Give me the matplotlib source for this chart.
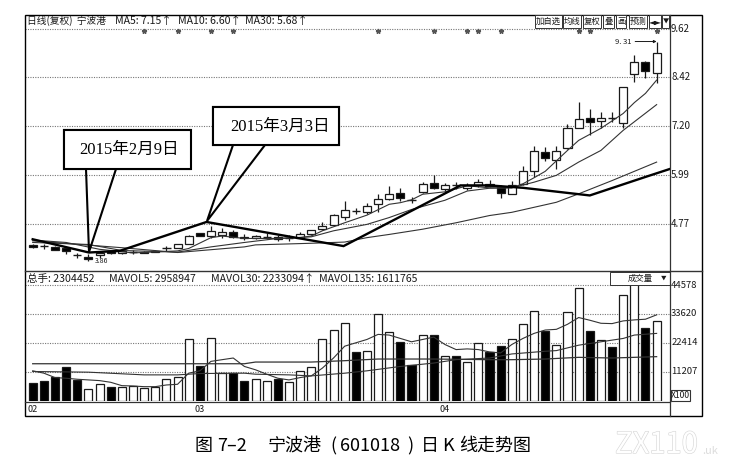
import matplotlib
matplotlib.use("Agg")
import matplotlib.pyplot as plt
from matplotlib import patches
from matplotlib import patheffects

plt.rcParams['font.family'] = ['Noto Sans CJK SC', 'DejaVu Sans']

# candles
opens = [4.24, 4.22, 4.20, 4.16, 3.99, 3.95, 3.99, 4.09, 4.05, 4.07, 4.08, 4.08, 4.16, 4.18, 4.28, 4.54, 4.47, 4.50, 4.57,
         4.41, 4.41, 4.45, 4.45, 4.43, 4.43, 4.51, 4.64, 4.75, 4.95, 5.09, 5.08, 5.26, 5.38, 5.55, 5.37, 5.57, 5.80, 5.63,
         5.73, 5.67, 5.74, 5.77, 5.70, 5.52, 5.77, 6.08, 6.56, 6.37, 6.66, 7.17, 7.40, 7.32, 7.40, 7.29, 8.50, 8.80, 8.53]
closes = [4.20, 4.22, 4.13, 4.11, 3.99, 3.91, 4.06, 4.05, 4.10, 4.07, 4.06, 4.11, 4.16, 4.26, 4.48, 4.47, 4.59, 4.58, 4.45,
          4.45, 4.47, 4.45, 4.40, 4.43, 4.53, 4.61, 4.71, 4.99, 5.13, 5.09, 5.22, 5.38, 5.52, 5.41, 5.37, 5.76, 5.67, 5.73,
          5.73, 5.73, 5.82, 5.72, 5.54, 5.73, 6.08, 6.58, 6.40, 6.58, 7.17, 7.38, 7.31, 7.41, 7.40, 8.17, 8.80, 8.57, 9.03]
highs = [4.26, 4.26, 4.22, 4.17, 4.06, 4.02, 4.10, 4.11, 4.12, 4.12, 4.09, 4.13, 4.22, 4.27, 4.49, 4.55, 4.72, 4.66, 4.61,
         4.51, 4.49, 4.55, 4.50, 4.49, 4.58, 4.63, 4.83, 5.01, 5.34, 5.18, 5.28, 5.51, 5.72, 5.66, 5.43, 5.82, 5.99, 5.80,
         5.81, 5.80, 5.90, 5.86, 5.73, 5.85, 6.21, 6.71, 6.69, 6.71, 7.25, 7.80, 7.62, 7.55, 7.55, 8.19, 8.97, 8.82, 9.31]
lows = [4.18, 4.14, 4.12, 4.03, 3.93, 3.86, 3.93, 4.03, 4.03, 4.03, 4.05, 4.07, 4.10, 4.17, 4.27, 4.46, 4.41, 4.43, 4.41,
        4.37, 4.39, 4.39, 4.35, 4.35, 4.41, 4.49, 4.62, 4.73, 4.86, 5.01, 5.01, 5.08, 5.36, 5.34, 5.28, 5.55, 5.65, 5.59,
        5.65, 5.61, 5.69, 5.68, 5.42, 5.51, 5.75, 5.94, 6.34, 6.14, 6.64, 7.17, 6.98, 7.17, 7.31, 7.17, 8.31, 8.41, 8.27]

ma5_x = [0, 3, 6, 9, 13, 14, 16, 17, 19, 22, 24, 25, 26, 28, 30, 32, 33, 34, 35, 37, 39, 41, 43, 44, 45, 46, 47, 48, 49, 51, 53, 54, 55, 56]
ma5_y = [4.37, 4.31, 4.14, 4.05, 4.10, 4.16, 4.43, 4.47, 4.41, 4.41, 4.43, 4.47, 4.60, 4.80, 4.99, 5.26, 5.30, 5.37, 5.51, 5.57, 5.72,
         5.67, 5.67, 5.77, 5.92, 6.08, 6.34, 6.60, 6.85, 7.15, 7.52, 7.79, 8.02, 8.35]
ma10_x = [0, 5, 8, 13, 16, 19, 22, 25, 27, 30, 32, 34, 37, 39, 41, 43, 45, 47, 49, 51, 53, 56]
ma10_y = [4.31, 4.26, 4.11, 4.07, 4.20, 4.31, 4.41, 4.45, 4.60, 4.76, 4.93, 5.13, 5.36, 5.59, 5.66, 5.67, 5.81, 5.98, 6.31, 6.60, 7.10, 7.74]
ma30_x = [0, 8, 13, 19, 20, 25, 28, 30, 32, 35, 38, 41, 43, 47, 49, 52, 56]
ma30_y = [4.35, 4.18, 4.06, 4.20, 4.25, 4.29, 4.32, 4.43, 4.51, 4.64, 4.80, 4.98, 5.06, 5.31, 5.52, 5.85, 6.31]

# the thick trend line drawn on the chart
trend_x = [0, 5.05, 7.8, 15.6, 27.9, 38.4, 41, 44, 50, 55.1, 57.2]
trend_y = [4.39, 4.06, 4.10, 4.82, 4.22, 5.73, 5.73, 5.67, 5.48, 5.95, 6.14]

event_days = [10, 13, 16, 18, 31, 36, 39, 40, 42, 49, 50, 56]
price_ticks = [9.62, 8.42, 7.20, 5.99, 4.77]

volumes = [6804, 7841, 9137, 13154, 8100, 4471, 6415, 5249, 5249, 5767, 4990, 5249, 8359, 9137, 23652, 13414, 24041, 10692, 10822, 7582,
           8359, 7711, 8618, 7193, 11340, 13025, 23652, 27151, 29873, 18857, 19116, 33502, 26374, 22486, 13673, 25466, 25466, 17302, 17172, 15098, 22356, 18986,
           20994, 23957, 29753, 34518, 26919, 21510, 34261, 43534, 27048, 23442, 20866, 40572, 44822, 27950, 30654]
vol_filled = [1, 1, 1, 1, 1, 0, 0, 1, 0, 0, 0, 0, 0, 0, 0, 1, 0, 0, 1, 1,
              0, 0, 1, 0, 0, 0, 0, 0, 0, 1, 0, 0, 0, 1, 1, 0, 1, 0, 1, 0, 0, 1,
              1, 0, 0, 0, 1, 0, 0, 0, 1, 0, 1, 0, 0, 1, 0]
mavol5 = [11600, 10700, 9000, 8750, 8360, 8100, 7840, 7190, 5900, 5770, 5510, 5510, 6160, 6415, 10700, 11600, 15230, 15880, 16520, 13280,
          11990, 10300, 8750, 8100, 9000, 9650, 12640, 16520, 21060, 22360, 23650, 25600, 25340, 24040, 22750, 23650, 24560, 21710, 19760, 20020, 19760, 18860,
          18470, 21710, 24040, 25980, 27280, 27540, 29480, 32080, 31040, 29870, 29740, 30780, 31170, 31430, 33110]
mavol30_x = [0, 5, 10, 13, 15, 19, 20, 23, 25, 28, 30, 33, 36, 38, 41, 43, 46, 47, 49, 51, 53, 54, 56]
mavol30_y = [11340, 11080, 10040, 10040, 10560, 10690, 10300, 10040, 9650, 10690, 11600, 13280, 14580, 15880, 16520, 18080, 19120, 19370, 21450, 22750, 24040, 25340, 25980]
mavol135_x = [0, 10, 19, 20, 25, 28, 31, 36, 41, 43, 46, 49, 52, 56]
mavol135_y = [14320, 14320, 14320, 14970, 14970, 15490, 16130, 16130, 15880, 15880, 16130, 16780, 16520, 17040]
vol_ticks = [44578, 33620, 22414, 11207]

month_days = [0, 15, 37]
month_labels = ['02', '03', '04']

W, H = 744, 467
ink = '#1a1a1a'
fig = plt.figure(figsize=(W / 100, H / 100), dpi=100)

def axes_px(x0, y0, x1, y1):
	return fig.add_axes([x0 / W, 1 - y1 / H, (x1 - x0) / W, (y1 - y0) / H])

ax = axes_px(25, 15, 670, 271)
ax_vol = axes_px(25, 272, 670, 401)
for a in (ax, ax_vol):
	a.set_xlim(-0.69, 57.2)
	a.set_xticks([])
	a.set_yticks([])
	a.patch.set_alpha(0)
	for s in a.spines.values():
		s.set_visible(False)
ax.set_ylim(3.60, 9.97)
ax_vol.set_ylim(0, 49575)

# price panel
for p in price_ticks:
	ax.axhline(p, color='#777777', lw=0.8, ls=(0, (1, 1.2)), zorder=1)
	ax.text(57.3, p, '%.2f' % p, fontsize=7, va='center', ha='left', color=ink, clip_on=False)

for i in range(len(opens)):
	ax.vlines(i, lows[i], highs[i], color=ink, lw=0.9, zorder=2)
	top, bot = max(opens[i], closes[i]), min(opens[i], closes[i])
	if top == bot:
		ax.hlines(top, i - 0.37, i + 0.37, color=ink, lw=1.0, zorder=3)
	else:
		ax.bar(i, top - bot, width=0.72, bottom=bot, zorder=3, linewidth=0.9, edgecolor=ink,
			   facecolor='black' if closes[i] < opens[i] else 'white')

ax.plot(ma5_x, ma5_y, color='#333333', lw=0.8, zorder=4)
ax.plot(ma10_x, ma10_y, color='#333333', lw=0.8, zorder=4)
ax.plot(ma30_x, ma30_y, color='#333333', lw=0.8, zorder=4)
ax.plot(trend_x, trend_y, color='black', lw=1.7, zorder=5, solid_joinstyle='miter')
ax.plot(event_days, [9.58] * len(event_days), ls='', marker='*', ms=3.5, color='#555555', zorder=2)

ax.annotate('9. 31', xy=(56, 9.31), xytext=(53.7, 9.31), fontsize=5.5, va='center', ha='right', color=ink,
			arrowprops=dict(arrowstyle='-|>', color=ink, lw=0.7, mutation_scale=4, shrinkA=1, shrinkB=0))
ax.text(5.6, 3.86, '3.86', fontsize=5, va='center', ha='left', color=ink)

# volume panel
for v in vol_ticks:
	ax_vol.axhline(v, color='#777777', lw=0.8, ls=(0, (1, 1.2)), zorder=1)
	ax_vol.text(57.3, v, str(v), fontsize=6.8, va='center', ha='left', color=ink, clip_on=False)

for i in range(len(volumes)):
	ax_vol.bar(i, volumes[i], width=0.72, zorder=2, linewidth=0.9, edgecolor=ink,
			   facecolor='black' if vol_filled[i] else 'white')

ax_vol.plot(range(len(mavol5)), mavol5, color='#333333', lw=0.8, zorder=3)
ax_vol.plot(mavol30_x, mavol30_y, color='#333333', lw=0.8, zorder=3)
ax_vol.plot(mavol135_x, mavol135_y, color='#333333', lw=0.9, zorder=3)

for d, label in zip(month_days, month_labels):
	ax_vol.text(d - 0.5, -1500, label, fontsize=6.5, va='top', ha='left', color=ink, clip_on=False)

# everything around the panels, in pixels
ov = fig.add_axes([0, 0, 1, 1], zorder=10)
ov.set_xlim(0, W)
ov.set_ylim(H, 0)
ov.axis('off')
ov.patch.set_alpha(0)

ov.add_patch(patches.Rectangle((24.5, 14.5), 677.5, 401.5, fill=False, ec='black', lw=1.0))
ov.plot([670, 670], [14.5, 416], color='#333333', lw=0.9)
ov.plot([24.5, 702], [271, 271], color='#333333', lw=1.0)
ov.plot([24.5, 670], [401.5, 401.5], color='#333333', lw=0.9)
ov.add_patch(patches.Rectangle((671, 390), 19, 11, fill=False, ec='#333333', lw=0.8))
ov.text(680.5, 395.5, 'X100', fontsize=6.2, ha='center', va='center', color=ink)

ov.text(27, 21, '日线(复权)  宁波港', fontsize=7, va='center', color=ink)
ov.text(115, 21, 'MA5: 7.15↑', fontsize=7.6, va='center', color=ink)
ov.text(178, 21, 'MA10: 6.60↑', fontsize=7.6, va='center', color=ink)
ov.text(245, 21, 'MA30: 5.68↑', fontsize=7.6, va='center', color=ink)
ov.text(27, 279, '总手: 2304452', fontsize=7.6, va='center', color=ink)
ov.text(109, 279, 'MAVOL5: 2958947', fontsize=7.6, va='center', color=ink)
ov.text(211, 279, 'MAVOL30: 2233094↑', fontsize=7.6, va='center', color=ink)
ov.text(319, 279, 'MAVOL135: 1611765', fontsize=7.6, va='center', color=ink)

# toolbar
buttons = [(535, 562, '加自选'), (563, 581, '均线'), (583, 601, '复权'), (603, 614, '叠'),
		   (616, 626, '画'), (629, 647, '预测'), (649, 661, '◄►'), (662, 669, '▼')]
for x0, x1, label in buttons:
	ov.add_patch(patches.Rectangle((x0, 15), x1 - x0, 13, fc='white', ec='#333333', lw=0.7))
	ov.text((x0 + x1) / 2, 21.5, label, fontsize=4.5 if label == '▼' else 6, ha='center', va='center', color=ink)
ov.add_patch(patches.Rectangle((610, 272), 60, 13, fc='white', ec='#333333', lw=0.7))
ov.text(640, 278.5, '成交量', fontsize=6, ha='center', va='center', color=ink)
ov.text(664, 278.5, '▼', fontsize=4, ha='center', va='center', color=ink)

# callouts
box1 = [(64, 130), (190.5, 130), (190.5, 169), (116, 169), (89, 252), (86, 169), (64, 169)]
box2 = [(213, 107), (339, 107), (339, 145), (265, 145), (207, 221), (233, 145), (213, 145)]
for pts in (box1, box2):
	ov.add_patch(patches.Polygon(pts, closed=True, fc='none', ec='black', lw=1.5, joinstyle='miter'))
	ov.add_patch(patches.Polygon([pts[0], pts[1], pts[2], pts[6]], closed=True, fc='white', ec='black', lw=1.5, zorder=1))
ov.text(129, 150, '2015年2月9日', fontsize=12, ha='center', va='center', color='black',
		family=['Liberation Serif', 'Noto Sans CJK SC'], zorder=3)
ov.text(280, 127, '2015年3月3日', fontsize=12, ha='center', va='center', color='black',
		family=['Liberation Serif', 'Noto Sans CJK SC'], zorder=3)

# caption and watermark
caption = [(195, '图'), (217, '7–2'), (268, '宁波港'), (330, '('), (340, '601018'), (407, ')'),
		   (421, '日'), (442, 'K'), (459, '线走势图')]
for x, label in caption:
	ov.text(x, 446, label, fontsize=13, va='center', color='black')
ov.text(615, 445, 'ZX110', fontsize=21, va='center', color='white',
		path_effects=[patheffects.withStroke(linewidth=0.9, foreground='#d8d8d8')])
ov.text(702, 451, '.uk', fontsize=8, va='center', color='#dddddd')

fig.savefig('out.png', dpi=100)
